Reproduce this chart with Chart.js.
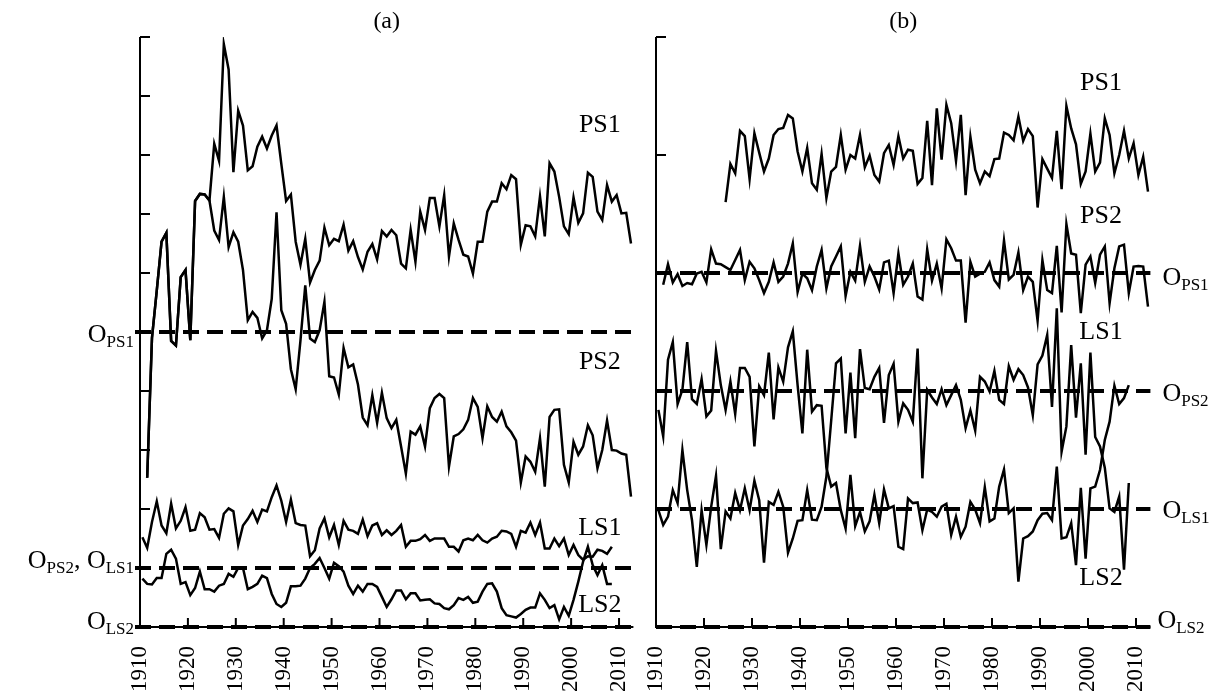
<!DOCTYPE html>
<html>
<head>
<meta charset="utf-8">
<script src="https://cdn.jsdelivr.net/npm/chart.js@4.4.0/dist/chart.umd.min.js"></script>
<style>
  html, body { margin: 0; padding: 0; background: #fff; overflow: hidden; }
  #wrap { position: relative; width: 1217px; height: 691px; overflow: hidden; }
  canvas { position: absolute; top: 0; }
  #chartA { left: 0; }
  #chartB { left: 620px; }
</style>
</head>
<body>
<div id="wrap">
  <canvas id="chartA" width="660" height="703"></canvas>
  <canvas id="chartB" width="597" height="703"></canvas>
</div>
<script>
'use strict';

let tickYears = [1910, 1920, 1930, 1940, 1950, 1960, 1970, 1980, 1990, 2000, 2010];
let yearShift = 0.5;

// panel (a), values in plot units (0..10)
let aStartPS = 1911;
let aPS1 = [2.53, 4.9, 5.7, 6.53, 6.68, 4.85, 4.77, 5.93, 6.05, 4.86, 7.22, 7.34, 7.33, 7.23, 8.19, 7.9, 9.88, 9.45, 7.71, 8.75,
  8.5, 7.74, 7.81, 8.14, 8.31, 8.11, 8.33, 8.5, 7.85, 7.22, 7.33, 6.53, 6.14, 6.58, 5.84, 6.05, 6.21, 6.77, 6.47, 6.58,
  6.54, 6.82, 6.38, 6.54, 6.27, 6.06, 6.36, 6.49, 6.23, 6.71, 6.62, 6.73, 6.64, 6.16, 6.08, 6.73, 6.19, 7.04, 6.73, 7.27,
  7.27, 6.79, 7.32, 6.28, 6.84, 6.56, 6.31, 6.28, 5.99, 6.53, 6.53, 7.04, 7.21, 7.21, 7.52, 7.42, 7.66, 7.59, 6.48, 6.81,
  6.79, 6.62, 7.30, 6.62, 7.86, 7.72, 7.29, 6.79, 6.66, 7.28, 6.85, 7.01, 7.70, 7.63, 7.04, 6.90, 7.49, 7.21, 7.32, 7.01,
  7.02, 6.50];
let aPS2 = [2.53, 4.9, 5.7, 6.53, 6.68, 4.85, 4.77, 5.93, 6.05, 4.86, 7.22, 7.34, 7.33, 7.23, 6.72, 6.56, 7.29, 6.44, 6.69, 6.53,
  6.05, 5.2, 5.34, 5.24, 4.89, 5.03, 5.56, 7.03, 5.37, 5.14, 4.37, 4.03, 4.86, 5.79, 4.89, 4.83, 5.03, 5.51, 4.25, 4.23,
  3.94, 4.73, 4.4, 4.45, 4.11, 3.55, 3.42, 3.93, 3.46, 3.97, 3.54, 3.37, 3.51, 3.06, 2.6, 3.31, 3.26, 3.40, 3.06, 3.71,
  3.88, 3.95, 3.88, 2.72, 3.23, 3.27, 3.35, 3.51, 3.88, 3.73, 3.2, 3.74, 3.56, 3.48, 3.65, 3.4, 3.3, 3.16, 2.45, 2.89,
  2.8, 2.63, 3.2, 2.38, 3.56, 3.68, 3.69, 2.75, 2.45, 3.14, 2.92, 3.06, 3.42, 3.25, 2.69, 3.0, 3.5, 3.0, 2.99, 2.94,
  2.92, 2.21];
let aStartLS = 1910;
let aLS1 = [1.52, 1.34, 1.78, 2.13, 1.72, 1.59, 2.09, 1.67, 1.80, 2.03, 1.63, 1.65, 1.93, 1.86, 1.65, 1.66, 1.51, 1.92, 2.01, 1.96,
  1.39, 1.72, 1.83, 1.97, 1.78, 1.99, 1.96, 2.2, 2.4, 2.14, 1.78, 2.16, 1.76, 1.73, 1.72, 1.2, 1.3, 1.67, 1.84, 1.52,
  1.73, 1.39, 1.80, 1.65, 1.63, 1.58, 1.82, 1.54, 1.72, 1.76, 1.56, 1.64, 1.56, 1.63, 1.73, 1.36, 1.46, 1.46, 1.49, 1.56,
  1.46, 1.5, 1.5, 1.5, 1.36, 1.36, 1.28, 1.47, 1.5, 1.47, 1.56, 1.47, 1.43, 1.5, 1.53, 1.63, 1.62, 1.58, 1.36, 1.63,
  1.6, 1.77, 1.56, 1.77, 1.33, 1.33, 1.5, 1.37, 1.5, 1.22, 1.39, 1.22, 1.14, 1.2, 1.19, 1.31, 1.29, 1.24, 1.36];
let aLS2 = [0.82, 0.73, 0.72, 0.83, 0.83, 1.24, 1.31, 1.16, 0.73, 0.76, 0.54, 0.66, 0.94, 0.64, 0.64, 0.6, 0.7, 0.73, 0.9, 0.85,
  1.0, 1.0, 0.64, 0.68, 0.73, 0.87, 0.83, 0.56, 0.39, 0.34, 0.41, 0.69, 0.69, 0.70, 0.82, 1.0, 1.07, 1.17, 1.0, 0.82,
  1.09, 1.03, 0.94, 0.70, 0.56, 0.70, 0.60, 0.73, 0.73, 0.68, 0.51, 0.34, 0.47, 0.62, 0.62, 0.47, 0.57, 0.57, 0.45, 0.46,
  0.47, 0.4, 0.39, 0.32, 0.3, 0.37, 0.49, 0.46, 0.51, 0.41, 0.43, 0.6, 0.73, 0.74, 0.6, 0.32, 0.2, 0.18, 0.16, 0.22,
  0.29, 0.33, 0.33, 0.57, 0.46, 0.32, 0.37, 0.13, 0.34, 0.19, 0.46, 0.77, 1.11, 1.36, 1.05, 0.88, 1.05, 0.73, 0.73];
let aOrigins = [5, 1, 0];

// panel (b)
let bStartPS1 = 1924;
let bPS1 = [7.20, 7.85, 7.69, 8.41, 8.32, 7.59, 8.37, 8.04, 7.72, 7.94, 8.34, 8.44, 8.46, 8.68, 8.62, 8.06, 7.72, 8.12, 7.52, 7.41,
  8.02, 7.27, 7.72, 7.80, 8.34, 7.75, 8.00, 7.94, 8.34, 7.79, 7.99, 7.66, 7.55, 8.03, 8.17, 7.83, 8.32, 7.94, 8.09, 8.07,
  7.51, 7.61, 8.58, 7.49, 8.79, 7.92, 8.85, 8.54, 7.90, 8.68, 7.32, 8.31, 7.75, 7.52, 7.72, 7.64, 7.93, 7.94, 8.38, 8.34,
  8.25, 8.65, 8.24, 8.44, 8.32, 7.11, 7.93, 7.77, 7.61, 8.41, 7.42, 8.83, 8.45, 8.18, 7.51, 7.72, 8.36, 7.72, 7.87, 8.62,
  8.34, 7.69, 8.00, 8.41, 7.94, 8.20, 7.66, 7.97, 7.38];
let bStartPS2 = 1911;
let bPS2 = [5.80, 6.15, 5.84, 5.98, 5.78, 5.83, 5.81, 5.99, 6.02, 5.84, 6.40, 6.16, 6.15, 6.10, 6.05, 6.22, 6.39, 5.88, 6.19, 6.08,
  5.88, 5.66, 5.85, 6.18, 5.85, 5.94, 6.16, 6.50, 5.68, 5.99, 5.91, 5.71, 6.11, 6.39, 5.74, 6.11, 6.28, 6.45, 5.61, 6.02,
  5.87, 6.46, 5.85, 6.11, 5.94, 5.72, 6.18, 6.21, 5.66, 6.33, 5.80, 5.94, 6.16, 5.60, 5.55, 6.40, 5.87, 6.16, 5.74, 6.57,
  6.42, 6.21, 6.21, 5.16, 6.19, 5.94, 5.99, 6.02, 6.18, 5.88, 5.77, 6.55, 5.89, 5.97, 6.35, 5.71, 5.94, 5.85, 5.19, 6.22,
  5.71, 5.66, 6.46, 5.33, 6.83, 6.33, 6.31, 5.32, 6.14, 6.28, 5.83, 6.31, 6.45, 5.49, 6.08, 6.45, 6.48, 5.66, 6.11, 6.12,
  6.11, 5.43];
let bStartLS = 1910;
let bLS1 = [3.68, 3.23, 4.53, 4.83, 3.78, 4.02, 4.83, 3.86, 3.78, 4.20, 3.57, 3.67, 4.68, 4.10, 3.68, 4.16, 3.61, 4.39, 4.39, 4.24,
  3.06, 4.08, 3.93, 4.65, 3.52, 4.40, 4.16, 4.74, 5.01, 4.10, 3.28, 4.70, 3.65, 3.76, 3.75, 2.7, 2.38, 2.44, 1.98, 1.67,
  2.58, 1.71, 1.95, 1.62, 1.79, 2.24, 1.76, 2.33, 2.01, 2.05, 1.36, 1.32, 2.18, 2.10, 2.11, 1.64, 1.99, 1.95, 1.87, 2.04,
  2.09, 1.56, 1.87, 1.53, 1.70, 2.12, 1.99, 1.76, 2.37, 1.79, 1.84, 2.38, 2.67, 1.93, 2.01, 0.77, 1.50, 1.54, 1.62, 1.81,
  1.92, 1.93, 1.81, 2.72, 1.50, 1.52, 1.76, 1.05, 2.36, 1.16, 2.35, 2.38, 2.66, 3.17, 3.48, 4.09, 3.78, 3.88, 4.10];
let bLS2 = [1.98, 1.73, 1.87, 2.32, 2.10, 3.00, 2.32, 1.81, 1.02, 1.98, 1.39, 2.04, 2.56, 1.32, 1.96, 1.84, 2.27, 1.98, 2.35, 1.98,
  2.48, 2.15, 1.09, 2.12, 2.07, 2.29, 2.04, 1.26, 1.50, 1.80, 1.81, 2.32, 1.82, 1.81, 2.04, 2.55, 3.5, 4.47, 4.55, 3.28,
  4.31, 3.20, 4.71, 4.05, 4.03, 4.24, 4.39, 3.46, 4.27, 4.46, 3.48, 3.79, 3.68, 3.48, 4.72, 2.52, 4.02, 3.89, 3.78, 4.03,
  3.76, 3.93, 4.10, 3.85, 3.37, 3.67, 3.33, 4.24, 4.16, 3.99, 4.34, 3.85, 3.78, 4.42, 4.19, 4.37, 4.27, 4.06, 3.59, 4.45,
  4.6, 4.95, 3.73, 5.40, 2.97, 3.40, 4.78, 3.55, 4.47, 2.92, 4.65, 3.22, 3.06, 2.7, 2.01, 1.95, 2.21, 0.97, 2.44];
let bOrigins = [6, 4, 2, 0];

let serif = '"Liberation Serif", "Times New Roman", serif';

function series(start, values) {
  return values.map((v, i) => ({ x: start + i + yearShift, y: v }));
}

function lineSet(points) {
  return { data: points, borderColor: '#000', borderWidth: 2.5, pointRadius: 0, fill: false, tension: 0 };
}

// text with subscripts: parts = [[text, isSub], ...]
function drawParts(ctx, parts, x, y, align) {
  let w = 0;
  parts.forEach(p => {
    ctx.font = (p[1] ? '17px ' : '26px ') + serif;
    w += ctx.measureText(p[0]).width;
  });
  let cx = align === 'right' ? x - w : x;
  ctx.textAlign = 'left';
  ctx.textBaseline = 'alphabetic';
  parts.forEach(p => {
    ctx.font = (p[1] ? '17px ' : '26px ') + serif;
    ctx.fillText(p[0], cx, p[1] ? y + 5 : y);
    cx += ctx.measureText(p[0]).width;
  });
}

function panelDecor(cfg) {
  return {
    id: 'panelDecor',
    afterDatasetsDraw(chart) {
      let ctx = chart.ctx;
      let xs = chart.scales.x;
      let ys = chart.scales.y;
      let area = chart.chartArea;
      ctx.save();
      ctx.strokeStyle = '#000';
      ctx.fillStyle = '#000';

      // dashed origin lines
      ctx.lineWidth = 4;
      ctx.setLineDash([16, 8]);
      cfg.origins.forEach(v => {
        let py = ys.getPixelForValue(v);
        ctx.beginPath();
        ctx.moveTo(area.left - cfg.dashLead, py);
        ctx.lineTo(area.right, py);
        ctx.stroke();
      });
      ctx.setLineDash([]);

      // axes
      ctx.lineWidth = 2;
      ctx.beginPath();
      ctx.moveTo(area.left, area.top);
      ctx.lineTo(area.left, area.bottom);
      ctx.lineTo(area.right, area.bottom);
      ctx.stroke();

      // inward ticks
      ctx.beginPath();
      for (let v = 0; v <= 10; v += cfg.yStep) {
        let py = ys.getPixelForValue(v);
        ctx.moveTo(area.left, py);
        ctx.lineTo(area.left + 10, py);
      }
      xs.ticks.forEach(t => {
        let px = xs.getPixelForValue(t.value);
        ctx.moveTo(px, area.bottom);
        ctx.lineTo(px, area.bottom - 9);
      });
      ctx.stroke();

      // panel title
      ctx.font = '24px ' + serif;
      ctx.textAlign = 'center';
      ctx.textBaseline = 'middle';
      ctx.fillText(cfg.title, (area.left + area.right) / 2, 22);

      // series names
      ctx.font = '26px ' + serif;
      cfg.names.forEach(n => {
        ctx.textAlign = 'center';
        ctx.textBaseline = 'middle';
        ctx.fillText(n[0], xs.getPixelForValue(n[1]), ys.getPixelForValue(n[2]));
      });

      // origin labels
      cfg.originText.forEach(o => {
        let py = ys.getPixelForValue(o[1]) + o[2];
        if (cfg.side === 'left') {
          drawParts(ctx, o[0], area.left - 6, py, 'right');
        } else {
          drawParts(ctx, o[0], area.right + o[3], py, 'left');
        }
      });
      ctx.restore();
    }
  };
}

function makeChart(id, datasets, cfg) {
  return new Chart(document.getElementById(id), {
    type: 'line',
    data: { datasets: datasets },
    options: {
      responsive: false,
      animation: false,
      devicePixelRatio: 1,
      layout: { padding: cfg.padding },
      plugins: { legend: { display: false }, tooltip: { enabled: false } },
      scales: {
        x: {
          type: 'linear',
          min: 1910,
          max: 2013,
          afterBuildTicks: s => { s.ticks = tickYears.map(v => ({ value: v })); },
          grid: { display: false },
          border: { display: false },
          ticks: {
            autoSkip: false,
            minRotation: 90,
            maxRotation: 90,
            padding: 11,
            color: '#000',
            font: { family: serif, size: 23 },
            callback: v => String(v)
          }
        },
        y: { display: false, min: 0, max: 10 }
      }
    },
    plugins: [panelDecor(cfg)]
  });
}

makeChart('chartA', [
  lineSet(series(aStartPS, aPS1)),
  lineSet(series(aStartPS, aPS2)),
  lineSet(series(aStartLS, aLS1)),
  lineSet(series(aStartLS, aLS2))
], {
  padding: { left: 140, right: 26.6, top: 37, bottom: 0 },
  origins: aOrigins,
  yStep: 1,
  dashLead: 5,
  title: '(a)',
  side: 'left',
  names: [['PS1', 2006, 8.5], ['PS2', 2006, 4.49], ['LS1', 2006, 1.68], ['LS2', 2006, 0.37]],
  originText: [
    [[['O', 0], ['PS1', 1]], aOrigins[0], 10],
    [[['O', 0], ['PS2', 1], [', O', 0], ['LS1', 1]], aOrigins[1], 0],
    [[['O', 0], ['LS2', 1]], aOrigins[2], 2]
  ]
});

makeChart('chartB', [
  lineSet(series(bStartPS1, bPS1)),
  lineSet(series(bStartPS2, bPS2)),
  lineSet(series(bStartLS, bLS1)),
  lineSet(series(bStartLS, bLS2))
], {
  padding: { left: 36, right: 66.6, top: 37, bottom: 0 },
  origins: bOrigins,
  yStep: 2,
  dashLead: 0,
  title: '(b)',
  side: 'right',
  names: [['PS1', 2002.7, 9.22], ['PS2', 2002.7, 6.97], ['LS1', 2002.7, 5.0], ['LS2', 2002.7, 0.83]],
  originText: [
    [[['O', 0], ['PS1', 1]], bOrigins[0], 12, 12],
    [[['O', 0], ['PS2', 1]], bOrigins[1], 10, 12],
    [[['O', 0], ['LS1', 1]], bOrigins[2], 9, 12],
    [[['O', 0], ['LS2', 1]], bOrigins[3], 1, 7]
  ]
});
</script>
</body>
</html>
